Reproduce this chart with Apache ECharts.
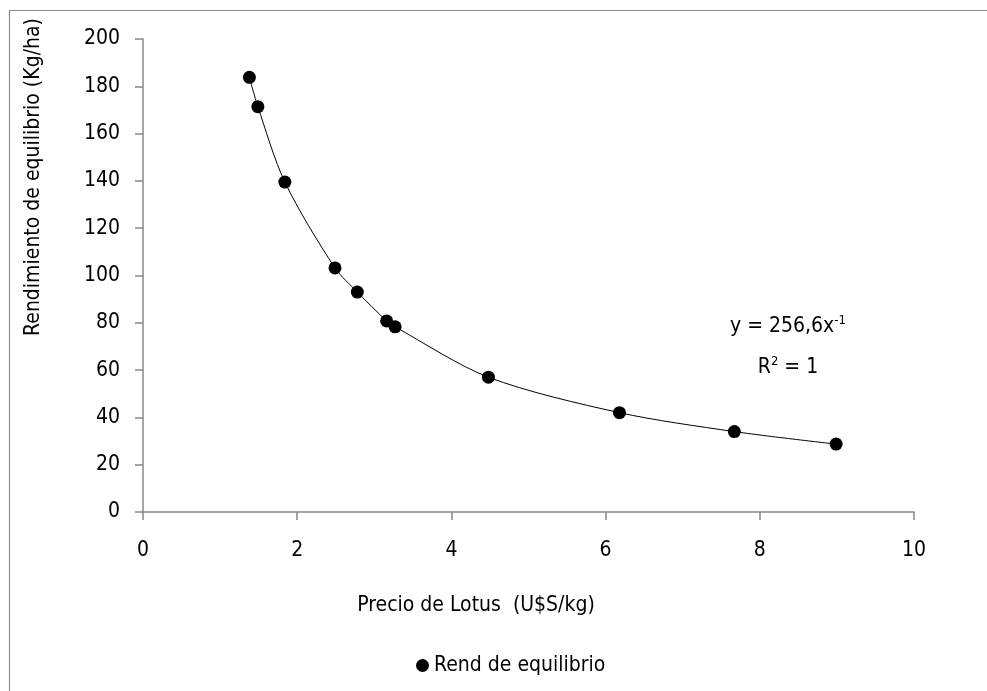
<!DOCTYPE html>
<html>
<head>
<meta charset="utf-8">
<script src="https://cdn.jsdelivr.net/npm/echarts@6/dist/echarts.min.js"></script>
<style>
html,body{margin:0;padding:0;background:#fff;}
#chart{width:987px;height:691px;}
</style>
</head>
<body>
<div id="chart"></div>
<script>
// Data
const priceX = [1.38, 1.49, 1.84, 2.49, 2.78, 3.16, 3.27, 4.48, 6.18, 7.67, 8.99];
const yieldY = [183.8, 171.4, 139.5, 103.2, 93.0, 80.8, 78.3, 57.0, 42.0, 34.0, 28.7];
const seriesName = 'Rend de equilibrio';
const xTitle = 'Precio de Lotus  (U$S/kg)';
const yTitle = 'Rendimiento de equilibrio (Kg/ha)';

const FONT = '"Liberation Sans Narrow", "Arial Narrow", "DejaVu Sans Condensed", sans-serif';
const points = priceX.map((x, i) => [x, yieldY[i]]);

const chart = echarts.init(document.getElementById('chart'), null, {renderer: 'canvas'});
chart.setOption({
  animation: false,
  backgroundColor: '#fff',
  textStyle: {fontFamily: FONT, color: '#000'},
  grid: {left: 143, right: 73, top: 39, bottom: 179, containLabel: false},
  xAxis: {
    type: 'value', min: 0, max: 10, interval: 2,
    axisLine: {onZero: false, lineStyle: {color: '#888', width: 1.5}},
    axisTick: {show: true, inside: false, length: 8, lineStyle: {color: '#888', width: 1.5}},
    axisLabel: {fontFamily: FONT, fontSize: 21, color: '#000', margin: 28},
    splitLine: {show: false}
  },
  yAxis: {
    type: 'value', min: 0, max: 200, interval: 20,
    axisLine: {show: true, lineStyle: {color: '#888', width: 1.5}},
    axisTick: {show: true, inside: false, length: 8, lineStyle: {color: '#888', width: 1.5}},
    axisLabel: {fontFamily: FONT, fontSize: 21, color: '#000', margin: 23},
    splitLine: {show: false}
  },
  legend: {
    data: [{name: seriesName, icon: 'circle', itemStyle: {color: '#000', opacity: 1}}],
    left: 411, top: 650,
    itemWidth: 13, itemHeight: 13, itemGap: 6,
    textStyle: {fontFamily: FONT, fontSize: 21, color: '#000'}
  },
  series: [
    {
      name: 'trend', type: 'line', data: points,
      smooth: 0.3,
      showSymbol: false, symbol: 'none',
      lineStyle: {color: '#000', width: 1},
      z: 1, silent: true
    },
    {
      name: seriesName, type: 'scatter', data: points,
      symbol: 'circle', symbolSize: 13,
      itemStyle: {color: '#000', opacity: 1},
      z: 3
    }
  ],
  graphic: [
    {
      type: 'rect', x: 9.5, y: 10.5, z: -10, silent: true,
      shape: {width: 1100, height: 800},
      style: {fill: 'none', stroke: '#8c8c8c', lineWidth: 1.2}
    },
    {
      type: 'text', x: 476, y: 606, z: 5,
      style: {text: xTitle, font: '21px ' + FONT, fill: '#000', align: 'center', verticalAlign: 'middle'}
    },
    {
      type: 'text', x: 34, y: 177, rotation: Math.PI / 2, z: 5,
      style: {text: yTitle, font: '21px ' + FONT, fill: '#000', align: 'center', verticalAlign: 'middle'}
    },
    {
      type: 'text', x: 788, y: 327, z: 5,
      style: {
        text: '{n|y = 256,6x}{s|-1}',
        align: 'center', verticalAlign: 'middle',
        rich: {
          n: {font: '21px ' + FONT, fill: '#000'},
          s: {font: '13px ' + FONT, fill: '#000', padding: [0, 0, 12, 0]}
        }
      }
    },
    {
      type: 'text', x: 788, y: 368, z: 5,
      style: {
        text: '{n|R}{s|2}{n| = 1}',
        align: 'center', verticalAlign: 'middle',
        rich: {
          n: {font: '21px ' + FONT, fill: '#000'},
          s: {font: '13px ' + FONT, fill: '#000', padding: [0, 0, 12, 0]}
        }
      }
    }
  ]
});
</script>
</body>
</html>
